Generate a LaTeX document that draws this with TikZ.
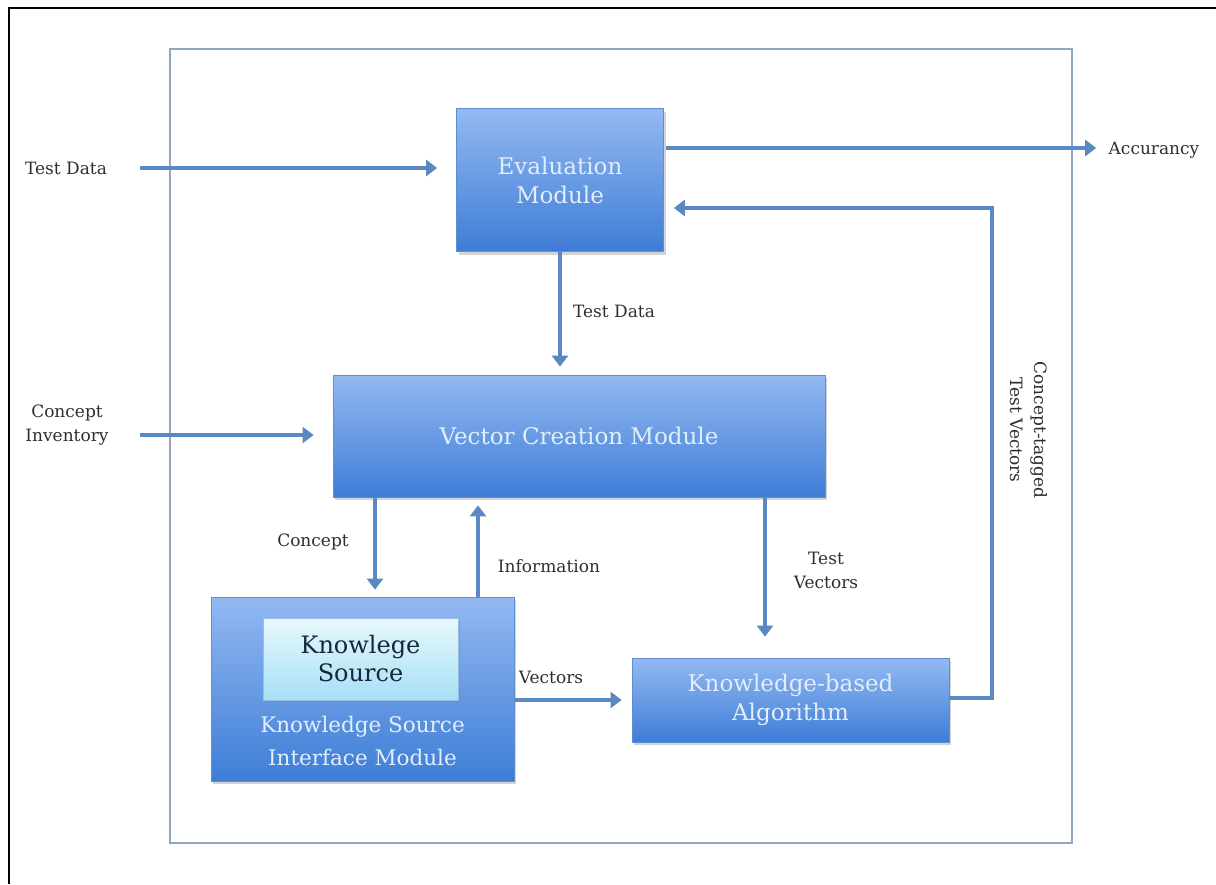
\documentclass[tikz,border=0pt]{standalone}
\usepackage{fontspec}
\setmainfont{DejaVu Serif}
\usetikzlibrary{arrows.meta,shadows}

\definecolor{flow}{HTML}{5A88C2}
\definecolor{boxtop}{HTML}{93B9F2}
\definecolor{boxbot}{HTML}{3E7DD6}
\definecolor{boxline}{HTML}{5C8FD0}
\definecolor{boxtext}{HTML}{E2EEFB}
\definecolor{srctop}{HTML}{E8F8FD}
\definecolor{srcbot}{HTML}{A6E0F4}
\definecolor{srctext}{HTML}{16283A}
\definecolor{labeltext}{HTML}{2E2E2E}
\definecolor{frameline}{HTML}{94A6C2}

\tikzset{
  module/.style={rectangle, draw=boxline, line width=0.8pt,
    top color=boxtop, bottom color=boxbot, text=boxtext,
    font=\fontsize{23}{29}\selectfont, align=center,
    drop shadow={shadow xshift=2pt, shadow yshift=-3pt, opacity=0.35}},
  source/.style={rectangle, draw=boxline!60, line width=0.6pt,
    top color=srctop, bottom color=srcbot, text=srctext,
    font=\fontsize{24}{28}\selectfont, align=center,
    drop shadow={shadow xshift=1.5pt, shadow yshift=-2pt, opacity=0.3}},
  flowlabel/.style={text=labeltext, font=\fontsize{17}{24}\selectfont, align=center},
  arr/.style={draw=flow, line width=4.5pt,
    -{Triangle[width=16pt,length=11pt]}}
}

\begin{document}
\begin{tikzpicture}[x=1pt,y=-1pt]
  \useasboundingbox (0,0) rectangle (1216,884);

  % page frame: left and top edges
  \draw[line width=2.2pt, black] (9,884) -- (9,8) -- (1216,8);
  % system boundary
  \draw[frameline, line width=1.6pt] (170,49) rectangle (1072,843);

  % modules
  \node[module, minimum width=207pt, minimum height=143pt] (eval) at (560,180)
    {Evaluation\\Module};
  \node[module, minimum width=492pt, minimum height=122pt] (vec) at (579,436)
    {Vector Creation Module};
  \node[module, minimum width=303pt, minimum height=184pt] (ksi) at (362.5,689) {};
  \node[source, minimum width=195pt, minimum height=82pt] (ks) at (360.5,659)
    {Knowlege\\Source};
  \node[text=boxtext, font=\fontsize{21.5}{33}\selectfont, align=center] (ksilabel)
    at (362.5,741) {Knowledge Source\\Interface Module};
  \node[module, minimum width=317pt, minimum height=84pt] (algo) at (790.5,700)
    {Knowledge-based\\Algorithm};

  % external labels
  \node[flowlabel] (tdin) at (66,168) {Test Data};
  \node[flowlabel] (acc) at (1154,150) {Accurancy};
  \node[flowlabel] (ci) at (67,425) {Concept\\Inventory};
  \node[flowlabel] (tdmid) at (614,311) {Test Data};
  \node[flowlabel] (cpt) at (313,542) {Concept};
  \node[flowlabel] (info) at (549,566) {Information};
  \node[flowlabel] (tv) at (826,570) {Test\\Vectors};
  \node[flowlabel] (vl) at (551,677) {Vectors};
  \node[flowlabel, rotate=-90] (ctv) at (1029,430) {Concept-tagged\\Test Vectors};

  % connector anchors
  \coordinate (tdstart) at (140,168);
  \coordinate (accstart) at (666,148);
  \coordinate (cistart) at (140,435);
  \coordinate (tdx) at (560,0);
  \coordinate (cptx) at (375,0);
  \coordinate (infox) at (478,0);
  \coordinate (tvx) at (765,0);
  \coordinate (vecy) at (0,700);
  \coordinate (fbx) at (992,698);
  \coordinate (fby) at (992,208);

  % flows
  \draw[arr, shorten >=19pt] (tdstart) -- (eval.west |- tdstart);
  \draw[arr, shorten >=9pt] (accstart) -- (acc.west |- accstart);
  \draw[arr, shorten >=8pt] (eval.south) -- (vec.north -| tdx);
  \draw[arr, shorten >=19pt] (cistart) -- (vec.west |- cistart);
  \draw[arr, shorten >=7pt] (vec.south -| cptx) -- (ksi.north -| cptx);
  \draw[arr, shorten >=8pt] (ksi.north -| infox) -- (vec.south -| infox);
  \draw[arr, shorten >=21pt] (vec.south -| tvx) -- (algo.north -| tvx);
  \draw[arr, shorten >=10pt] (ksi.east |- vecy) -- (algo.west |- vecy);
  \draw[arr, shorten >=10pt] (algo.east |- fbx) -- (fbx) -- (fby) -- (eval.east |- fby);
\end{tikzpicture}
\end{document}
